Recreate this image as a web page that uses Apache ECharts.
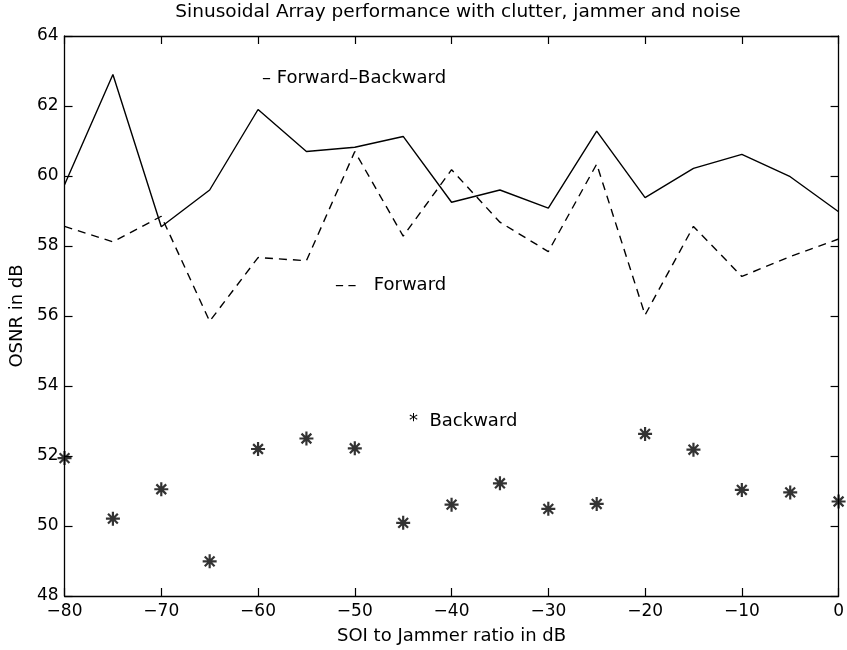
<!DOCTYPE html>
<html>
<head>
<meta charset="utf-8">
<script src="https://cdn.jsdelivr.net/npm/echarts@6/dist/echarts.min.js"></script>
<style>
  html, body { margin: 0; padding: 0; background: #fff; }
  #chart { width: 847px; height: 650px; }
</style>
</head>
<body>
<div id="chart"></div>
<script>
// SOI to jammer ratio (dB)
const sjr = [-80, -75, -70, -65, -60, -55, -50, -45, -40, -35, -30, -25, -20, -15, -10, -5, 0];
// Output SNR (dB) for each estimator
const forwardBackward = [59.75, 62.9, 58.55, 59.6, 61.9, 60.7, 60.82, 61.13, 59.25, 59.6, 59.08, 61.28, 59.38, 60.22, 60.62, 59.98, 58.98];
const forward = [58.56, 58.12, 58.85, 55.85, 57.67, 57.58, 60.7, 58.28, 60.18, 58.68, 57.84, 60.34, 56.03, 58.56, 57.13, 57.7, 58.2];
const backward = [51.94, 50.21, 51.05, 48.99, 52.2, 52.5, 52.22, 50.09, 50.61, 51.22, 50.49, 50.63, 52.63, 52.18, 51.03, 50.96, 50.7];
// Axis ticks
const xTicks = { min: -80, max: 0, step: 10 };
const yTicks = { min: 48, max: 64, step: 2 };

const FONT = '"DejaVu Sans", "Liberation Sans", Arial, sans-serif';
const pairs = arr => sjr.map((x, i) => [x, arr[i]]);

// '*' marker: a plus and a cross drawn as strokes
const starPath = 'path://M10,0 L10,20 M0,10 L20,10 M3,3 L17,17 M3,17 L17,3';

const chart = echarts.init(document.getElementById('chart'), null, { renderer: 'canvas' });

// Boxed axes with inward ticks on all four sides
const axisCommon = {
  axisLine: { show: true, onZero: false, lineStyle: { color: '#000', width: 1.3 } },
  axisTick: { show: true, inside: true, length: 8, lineStyle: { color: '#000', width: 1.2 } },
  splitLine: { show: false }
};

chart.setOption({
  animation: false,
  backgroundColor: '#fff',
  title: {
    text: 'Sinusoidal Array performance with clutter, jammer and noise',
    left: 453, textAlign: 'center', top: -2,
    textStyle: { fontFamily: FONT, fontSize: 18.5, fontWeight: 'normal', color: '#000' }
  },
  grid: { left: 63, right: 8, top: 36, bottom: 53 },
  xAxis: [
    Object.assign({
      type: 'value', position: 'bottom',
      min: xTicks.min, max: xTicks.max, interval: xTicks.step,
      name: 'SOI to Jammer ratio in dB', nameLocation: 'middle', nameGap: 31,
      nameTextStyle: { fontFamily: FONT, fontSize: 18, color: '#000' },
      axisLabel: {
        fontFamily: FONT, fontSize: 17, color: '#000', margin: 7,
        formatter: v => (v < 0 ? '\u2212' + Math.abs(v) : String(v))
      }
    }, axisCommon),
    Object.assign({
      type: 'value', position: 'top',
      min: xTicks.min, max: xTicks.max, interval: xTicks.step,
      axisLabel: { show: false }
    }, axisCommon)
  ],
  yAxis: [
    Object.assign({
      type: 'value', position: 'left',
      min: yTicks.min, max: yTicks.max, interval: yTicks.step,
      name: 'OSNR in dB', nameLocation: 'middle', nameGap: 38,
      nameTextStyle: { fontFamily: FONT, fontSize: 18, color: '#000' },
      axisLabel: { fontFamily: FONT, fontSize: 17, color: '#000', margin: 6 }
    }, axisCommon),
    Object.assign({
      type: 'value', position: 'right',
      min: yTicks.min, max: yTicks.max, interval: yTicks.step,
      axisLabel: { show: false }
    }, axisCommon)
  ],
  series: [
    {
      name: 'Forward-Backward', type: 'line', data: pairs(forwardBackward),
      showSymbol: false, symbol: 'none',
      lineStyle: { color: '#000', width: 1.4, type: 'solid' }
    },
    {
      name: 'Forward', type: 'line', data: pairs(forward),
      showSymbol: false, symbol: 'none',
      lineStyle: { color: '#000', width: 1.4, type: [8, 6] }
    },
    {
      name: 'Backward', type: 'scatter', data: pairs(backward),
      symbol: starPath, symbolSize: 14,
      itemStyle: { color: 'rgba(0,0,0,0)', borderColor: '#000', borderWidth: 2.2 }
    }
  ],
  graphic: [
    {
      type: 'text', left: 262, top: 69,
      style: { text: '\u2013 Forward\u2013Backward', font: '18px ' + FONT, fill: '#000' }
    },
    {
      type: 'text', left: 335, top: 276,
      style: { text: '\u2013\u2009\u2013   Forward', font: '18px ' + FONT, fill: '#000' }
    },
    {
      type: 'text', left: 409, top: 412,
      style: { text: '*  Backward', font: '18px ' + FONT, fill: '#000' }
    }
  ]
});
</script>
</body>
</html>
